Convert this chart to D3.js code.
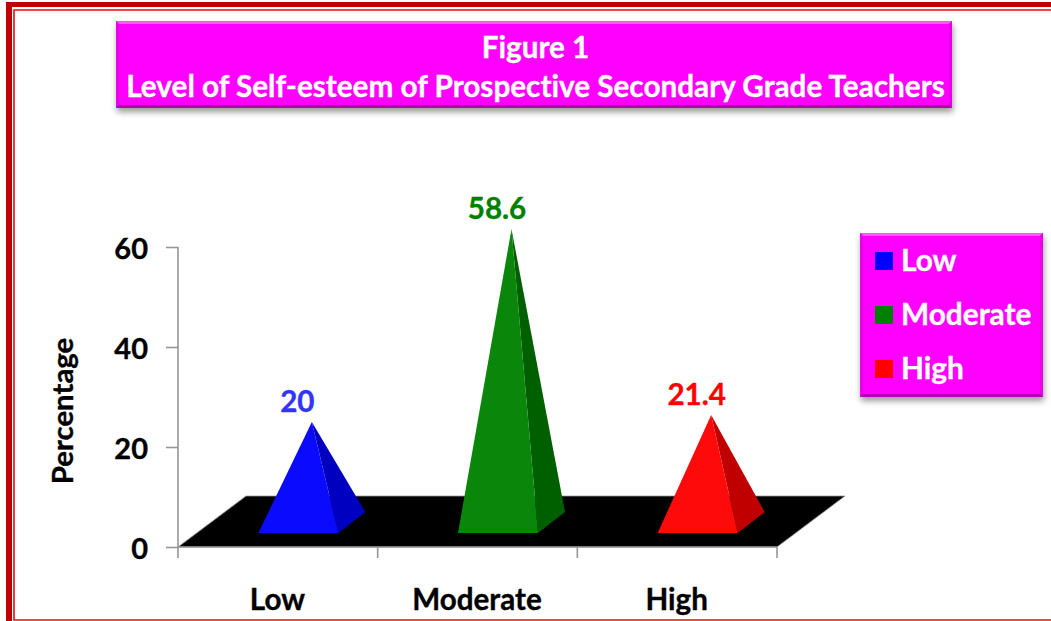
<!DOCTYPE html>
<html><head><meta charset="utf-8">
<script src="https://cdn.jsdelivr.net/npm/d3@7"></script>
<style>html,body{margin:0;padding:0;background:#fff;overflow:hidden}svg{display:block}text{font-family:Lato,"Open Sans",sans-serif;font-weight:700;font-variant-ligatures:none;stroke-width:.35;paint-order:stroke}</style>
</head><body><svg id="c" width="1051" height="621"></svg>
<script>
const categories=["Low","Moderate","High"];
const values=[20,58.6,21.4];
const labels=["20","58.6","21.4"];
const labelColors=["#3333ff","#008000","#ff0000"];
const frontColors=["#0a0aff","#0a870a","#ff0a0a"];
const sideColors=["#0000c0","#006000","#c00000"];
const legendColors=["#0000ff","#008000","#ff0000"];
const yTicks=[0,20,40,60];
const titleLines=["Figure 1","Level of Self-esteem of Prospective Secondary Grade Teachers"];
const yTitle="Percentage";

const svg=d3.select("#c");
const defs=svg.append("defs");
const f=defs.append("filter").attr("id","sh").attr("x","-5%").attr("y","-10%").attr("width","110%").attr("height","125%");
f.append("feDropShadow").attr("dx",1).attr("dy",4).attr("stdDeviation",3).attr("flood-color","#000").attr("flood-opacity",.4);

// page frame
const red="#c00000";
svg.append("rect").attr("x",6).attr("y",2).attr("width",1045).attr("height",5).attr("fill",red);
svg.append("rect").attr("x",6).attr("y",2).attr("width",6).attr("height",619).attr("fill",red);
svg.append("path").attr("d","M1051,10H14V620H1051").attr("fill","none").attr("stroke","#e01010").attr("stroke-width",1.6);

function box(x,y,w,h){
  const g=svg.append("g");
  g.append("rect").attr("x",x).attr("y",y).attr("width",w).attr("height",h).attr("fill","#ff00ff").attr("filter","url(#sh)");
  const b=3;
  g.append("path").attr("d",`M${x},${y}h${w}l-${b},${b}h-${w-2*b}z`).attr("fill","#ff55ff");
  g.append("path").attr("d",`M${x},${y}v${h}l${b},-${b}v-${h-2*b}z`).attr("fill","#e600e6");
  g.append("path").attr("d",`M${x+w},${y}v${h}l-${b},-${b}v-${h-2*b}z`).attr("fill","#e600e6");
  g.append("path").attr("d",`M${x},${y+h}h${w}l-${b},-${b}h-${w-2*b}z`).attr("fill","#b000b0");
}
box(116,21,836,87);
svg.selectAll("text.t").data(titleLines).join("text").attr("class","t")
  .attr("x",535.5).attr("y",(d,i)=>57.5+i*39.5).attr("text-anchor","middle")
  .attr("font-size",29.7).attr("fill","#fff").attr("stroke","#fff").text(d=>d);

// scales
const x=d3.scaleBand().domain(categories).range([178,777]);
const y=d3.scaleLinear().domain([0,60]).range([547,247]);
const depthX=68,depthY=51;

// floor
svg.append("path").attr("d",`M${x.range()[0]},${y(0)}L${x.range()[1]},${y(0)}l${depthX},${-depthY}H${x.range()[0]+depthX}z`)
  .attr("fill","#000").attr("stroke","#999").attr("stroke-width",0.8);

// axes
const ga=svg.append("g");
const yAxis=d3.axisLeft(y).tickValues(yTicks).tickSize(12).tickPadding(18);
const gy=ga.append("g").attr("transform","translate(178,0)").call(yAxis);
const xAxis=d3.axisBottom(x).tickSize(0).tickPadding(0);
const gx=ga.append("g").attr("transform","translate(0,547)").call(xAxis);
gx.selectAll(".tick line").remove();
gx.selectAll(".sep").data([...categories.map(c=>x(c)),x.range()[1]]).join("line").attr("class","sep")
  .attr("x1",d=>d).attr("x2",d=>d).attr("y1",0).attr("y2",11);
ga.selectAll("path.domain,line").attr("stroke","#969696").attr("stroke-width",1.6);
gy.selectAll("text").attr("font-size",29).attr("fill","#000").attr("stroke","#000").attr("y",1).attr("dy","0.36em").style("font-family","Lato").style("font-weight",700);
gx.selectAll("text").attr("font-size",29.6).attr("fill","#000").attr("stroke","#000").attr("x",-0.5).attr("y",63).attr("dy",0).style("font-family","Lato").style("font-weight",700);
gy.select(".domain").attr("d","M0,247V547");
gx.select(".domain").attr("d","M178,0H777");

svg.append("text").attr("transform","translate(73,411) rotate(-90)").attr("text-anchor","middle")
  .attr("font-size",29.4).attr("fill","#000").attr("stroke","#000").text(yTitle);

// pyramids
const baseW=80, lift=14;
categories.forEach((c,i)=>{
  const cx=x(c)+x.bandwidth()/2;
  const fl=cx-19.5, fr=fl+baseW, by=y(0)-lift;
  const ax=fl+baseW/2+13.5, ay=y(values[i])-25;
  svg.append("path").attr("d",`M${fr},${by}L${fr+27},${by-21}L${ax},${ay}z`).attr("fill",sideColors[i]);
  svg.append("path").attr("d",`M${fl},${by}L${fr},${by}L${ax},${ay}z`).attr("fill",frontColors[i]);
  svg.append("text").attr("x",ax-14.5).attr("y",ay-10).attr("text-anchor","middle").attr("font-size",29.6)
    .attr("fill",labelColors[i]).attr("stroke",labelColors[i]).text(labels[i]);
});

// legend
box(860,233,183,164);
categories.forEach((c,i)=>{
  const ly=[261,315,369][i];
  svg.append("rect").attr("x",875).attr("y",ly-9).attr("width",18).attr("height",18).attr("fill",legendColors[i]);
  svg.append("text").attr("x",901).attr("y",ly+10).attr("font-size",29.8).attr("fill","#fff").attr("stroke","#fff").text(c);
});
</script></body></html>
